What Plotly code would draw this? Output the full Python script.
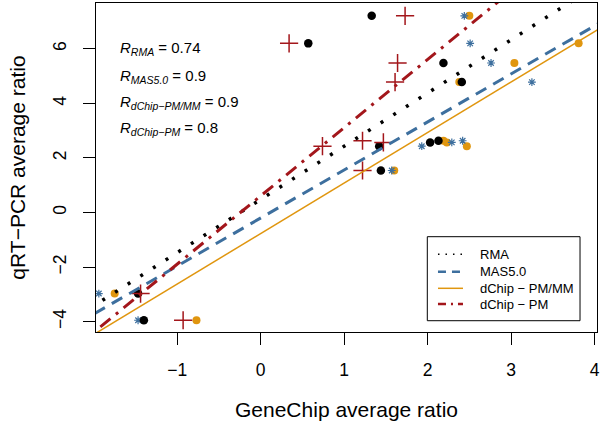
import plotly.graph_objects as go

# qRT-PCR average ratio (shared y for each gene)
qpcr = [7.21, 6.20, 5.48, 4.78, 2.63, 2.57, 2.43, 1.54, -2.97, -3.95]
# GeneChip average ratio per method
rma = [1.33, 0.57, 2.19, 2.41, 2.13, 2.03, 1.42, 1.44, -1.47, -1.40]
mas5 = [2.44, 2.51, 2.76, 3.25, 2.42, 2.29, 1.93, 1.57, -1.94, -1.47]
dchip_pmmm = [2.50, 3.81, 3.04, 2.38, 2.19, 2.23, 2.47, 1.60, -1.75, -0.77]
dchip_pm = [1.73, 0.34, 1.64, 1.61, 1.22, 1.47, 0.74, 1.22, -1.44, -0.93]

method_names = ["RMA", "MAS5.0", "dChip − PM/MM", "dChip − PM"]
fit_intercepts = [0.48, -0.20, -0.77, 0.61]
fit_slopes = [1.95, 1.76, 1.85, 2.50]
corr_labels = ["RMA", "MAS5.0", "dChip−PM/MM", "dChip−PM"]
corr_values = ["0.74", "0.9", "0.9", "0.8"]

x_ticks = [-1, 0, 1, 2, 3, 4]
y_ticks = [-4, -2, 0, 2, 4, 6]

BLACK = "#000000"
BLUE = "#3d6f9e"
ORANGE = "#e0960f"
RED = "#a3161b"

FONT = "Liberation Sans, Arial, sans-serif"

fig = go.Figure()

# points
fig.add_trace(go.Scatter(x=dchip_pmmm, y=qpcr, mode="markers", showlegend=False,
                         marker=dict(symbol="circle", size=8, color=ORANGE, line=dict(width=0))))
fig.add_trace(go.Scatter(x=mas5, y=qpcr, mode="markers", showlegend=False,
                         marker=dict(symbol="asterisk-open", size=6.5, color=BLUE,
                                     line=dict(width=1.2, color=BLUE))))
fig.add_trace(go.Scatter(x=rma, y=qpcr, mode="markers", showlegend=False,
                         marker=dict(symbol="circle", size=8.5, color=BLACK, line=dict(width=0))))
fig.add_trace(go.Scatter(x=dchip_pm, y=qpcr, mode="markers", showlegend=False,
                         marker=dict(symbol="cross-thin-open", size=13, color=RED,
                                     line=dict(width=1.5, color=RED))))

# regression lines
x_span = [-2.2, 4.3]
styles = [
    dict(color=BLACK, width=3.5, dash="3px,12px"),
    dict(color=BLUE, width=3, dash="12px,8px"),
    dict(color=ORANGE, width=1.5, dash="solid"),
    dict(color=RED, width=3, dash="13px,7px,3px,7px"),
]
for name, a, b, st in zip(method_names, fit_intercepts, fit_slopes, styles):
    fig.add_trace(go.Scatter(x=x_span, y=[a + b * xv for xv in x_span], mode="lines",
                             name=name, line=st, showlegend=False, hoverinfo="skip"))

# correlation annotations
ann_y = [0.863, 0.778, 0.699, 0.620]
for lab, val, yy in zip(corr_labels, corr_values, ann_y):
    fig.add_annotation(xref="paper", yref="paper", x=0.044, y=yy, xanchor="left", yanchor="middle",
                       showarrow=False,
                       text=f"<i>R</i><sub><i>{lab}</i></sub> = {val}",
                       font=dict(size=15, color="black", family=FONT))

# legend box (drawn manually to match the reference's compact layout)
fig.add_shape(type="rect", xref="paper", yref="paper", x0=0.6613, x1=0.9661, y0=0.0343, y1=0.2897,
              line=dict(color="black", width=1), fillcolor="white", layer="above")
leg_rows = [0.2362, 0.1833, 0.1328, 0.0851]
leg_styles = [
    dict(color=BLACK, width=1.5, dash="1.5px,6px"),
    dict(color=BLUE, width=2.5, dash="8px,6px"),
    dict(color=ORANGE, width=1.5, dash="solid"),
    dict(color=RED, width=2.5, dash="8px,5px,2px,5px"),
]
for name, yy, st in zip(method_names, leg_rows, leg_styles):
    fig.add_shape(type="line", xref="paper", yref="paper", x0=0.6826, x1=0.7325, y0=yy, y1=yy,
                  line=st, layer="above")
    fig.add_annotation(xref="paper", yref="paper", x=0.7631, y=yy, xanchor="left", yanchor="middle",
                       showarrow=False, text=name, font=dict(size=13, color="black", family=FONT))

axis_common = dict(ticks="outside", ticklen=12, tickwidth=1, tickcolor="black",
                   showline=True, linecolor="black", linewidth=1, mirror=True,
                   showgrid=False, zeroline=False, automargin=False,
                   tickfont=dict(size=17.5, color="black", family=FONT))

fig.update_layout(
    width=600, height=428,
    margin=dict(l=96, r=3, t=3, b=96),
    plot_bgcolor="white", paper_bgcolor="white",
    font=dict(family=FONT, color="black"),
    showlegend=False,
    xaxis=dict(range=[-1.974, 4.03], tickvals=x_ticks, ticklabelstandoff=10,
               title=dict(text="GeneChip average ratio", font=dict(size=21), standoff=23),
               **axis_common),
    yaxis=dict(range=[-4.38, 7.68], tickvals=y_ticks, tickangle=-90, ticklabelstandoff=10,
               title=dict(text="qRT−PCR average ratio", font=dict(size=21), standoff=18),
               **axis_common),
)

fig.write_html("out.html",
               config={"displayModeBar": False},
               post_script="document.body.style.margin='0px';document.body.style.overflow='hidden';")
